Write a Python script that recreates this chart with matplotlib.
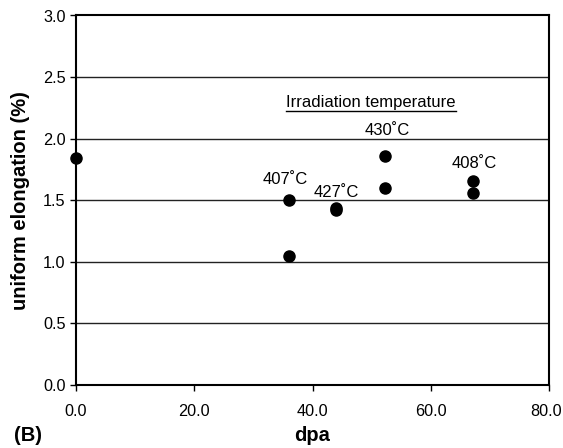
import matplotlib
matplotlib.use("Agg")
import matplotlib.pyplot as plt
from matplotlib.transforms import ScaledTranslation

plt.rcParams['font.family'] = ['Liberation Sans', 'DejaVu Sans']

dpa = [0.0, 36.0, 36.0, 44.0, 44.0, 52.3, 52.3, 67.2, 67.2]
elong = [1.84, 1.50, 1.05, 1.44, 1.42, 1.86, 1.60, 1.66, 1.56]

temp_labels = ["407˚C", "427˚C", "430˚C", "408˚C"]
temp_x = [35.4, 44.0, 52.6, 67.3]
temp_y = [1.665, 1.565, 2.065, 1.80]

fig = plt.figure(figsize=(5.63, 4.48), dpi=100)
L, R, T, B = 76, 549, 15.5, 385
ax = fig.add_axes([L/563, 1 - B/448, (R-L)/563, (B-T)/448])

ax.set_xlim(0, 80)
ax.set_ylim(0, 3.0)
ax.set_xticks([0, 20, 40, 60, 80])
ax.set_xticklabels(["0.0", "20.0", "40.0", "60.0", "80.0"])
ax.set_yticks([0, 0.5, 1.0, 1.5, 2.0, 2.5, 3.0])
ax.set_yticklabels(["0.0", "0.5", "1.0", "1.5", "2.0", "2.5", "3.0"])
ax.tick_params(axis='both', labelsize=11.7, length=4.5, width=1, direction='out', color='black')
ax.tick_params(axis='x', pad=9)
ax.tick_params(axis='y', pad=3)

lbl = ax.get_xticklabels()[-1]
lbl.set_transform(lbl.get_transform() + ScaledTranslation(-3/100, 0, fig.dpi_scale_trans))

for y in [0.5, 1.0, 1.5, 2.0, 2.5]:
    ax.axhline(y, color='#222222', lw=1.0, zorder=1)

for s in ax.spines.values():
    s.set_linewidth(1.5)
    s.set_color('black')

ax.plot(dpa, elong, 'o', color='black', ms=8, clip_on=False, zorder=3)

for t, x, y in zip(temp_labels, temp_x, temp_y):
    ax.text(x, y, t, ha='center', va='center', fontsize=12)

title = ax.text(49.9, 2.29, "Irradiation temperature", ha='center', va='center', fontsize=12)
fig.canvas.draw()
bb = title.get_window_extent().transformed(ax.transData.inverted())
ax.plot([bb.x0, bb.x1], [bb.y0 - 0.005, bb.y0 - 0.005], color='black', lw=1.0)

ax.set_xlabel("dpa", fontsize=14.5, fontweight='bold', labelpad=5)
ax.set_ylabel("uniform elongation (%)", fontsize=14.5, fontweight='bold', labelpad=9)
fig.text(14/563, 3/448, "(B)", fontsize=14.5, fontweight='bold', va='bottom', ha='left')

fig.savefig("out.png", dpi=100)
